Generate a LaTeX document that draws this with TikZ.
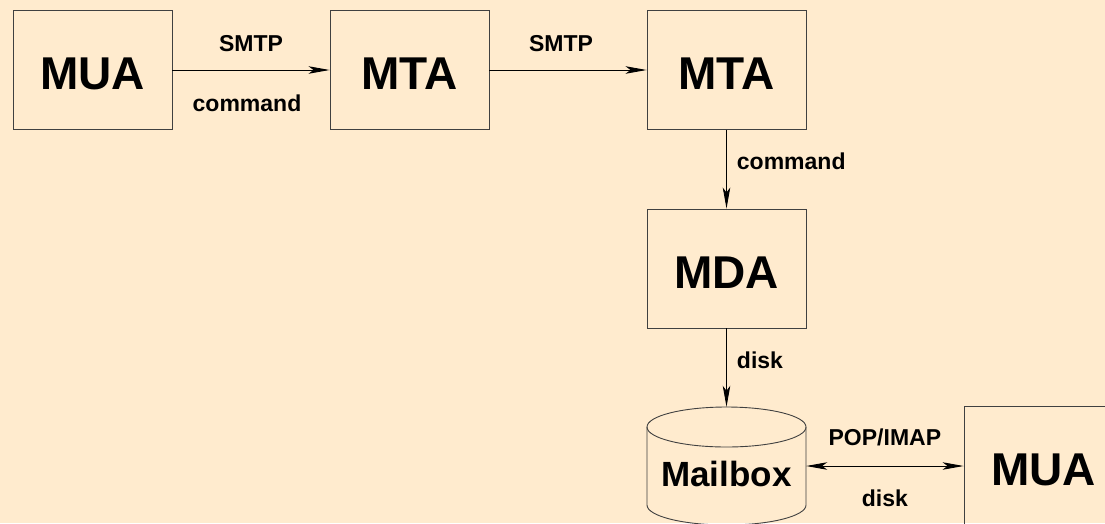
\documentclass[tikz,border=0pt]{standalone}
\usepackage{fontspec}
\setmainfont{Liberation Sans}
\usetikzlibrary{arrows.meta}
\definecolor{paper}{RGB}{255,235,206}
\definecolor{frame}{RGB}{64,64,64}
\tikzset{
	>={Stealth[length=21pt,width=7.5pt,inset=5pt]},
	agent/.style={draw=frame, line width=0.9pt, minimum width=159pt, minimum height=119pt, inner sep=0pt, text height=39pt, font=\fontsize{46}{50}\selectfont\bfseries},
	proto/.style={font=\fontsize{23}{26}\selectfont\bfseries, inner sep=0pt},
	link/.style={line width=0.9pt, ->},
	duplex/.style={line width=0.9pt, <->},
}
\begin{document}
\begin{tikzpicture}[x=1pt,y=-1pt]
		\path[use as bounding box, fill=paper] (0,0) rectangle (1105,523);
		\clip (0,0) rectangle (1105,523);
		\node[agent] (mua) at (92.5, 70) {MUA};
		\node[agent] (mta) at (409.5, 70) {MTA};
		\node[agent] (relay) at (726.5, 70) {MTA};
		\node[agent] (mda) at (726.5, 268.5) {MDA};
		\node[agent] (reader) at (1043.5, 466) {MUA};
		% mailbox drawn as a cylinder round a plain node
		\node[minimum width=159pt, minimum height=118pt, inner sep=0pt, text height=41pt, font=\fontsize{35}{40}\selectfont\bfseries] (mbox) at (726.5, 466) {Mailbox};
		\draw[frame, line width=0.9pt] (726.5, 427) ellipse [x radius=79.5, y radius=20];
		\draw[frame, line width=0.9pt] (647, 427) -- (647, 505) arc[start angle=180, end angle=0, x radius=79.5, y radius=20] -- (806, 427);
		\draw[link] (mua) -- node[proto, above=18pt] {SMTP} node[proto, below=24pt, xshift=-4pt] {command} (mta);
		\draw[link] (mta) -- node[proto, above=18pt, xshift=-7pt] {SMTP} (relay);
		\draw[link] (relay) -- node[proto, pos=0.4, right=10pt] {command} (mda);
		\draw[link] (mda) -- node[proto, pos=0.4, right=10pt] {disk} (mbox);
		\draw[duplex] (mbox) -- node[proto, above=20pt] {POP/IMAP} node[proto, below=23pt] {disk} (reader);
	\end{tikzpicture}
\end{document}
